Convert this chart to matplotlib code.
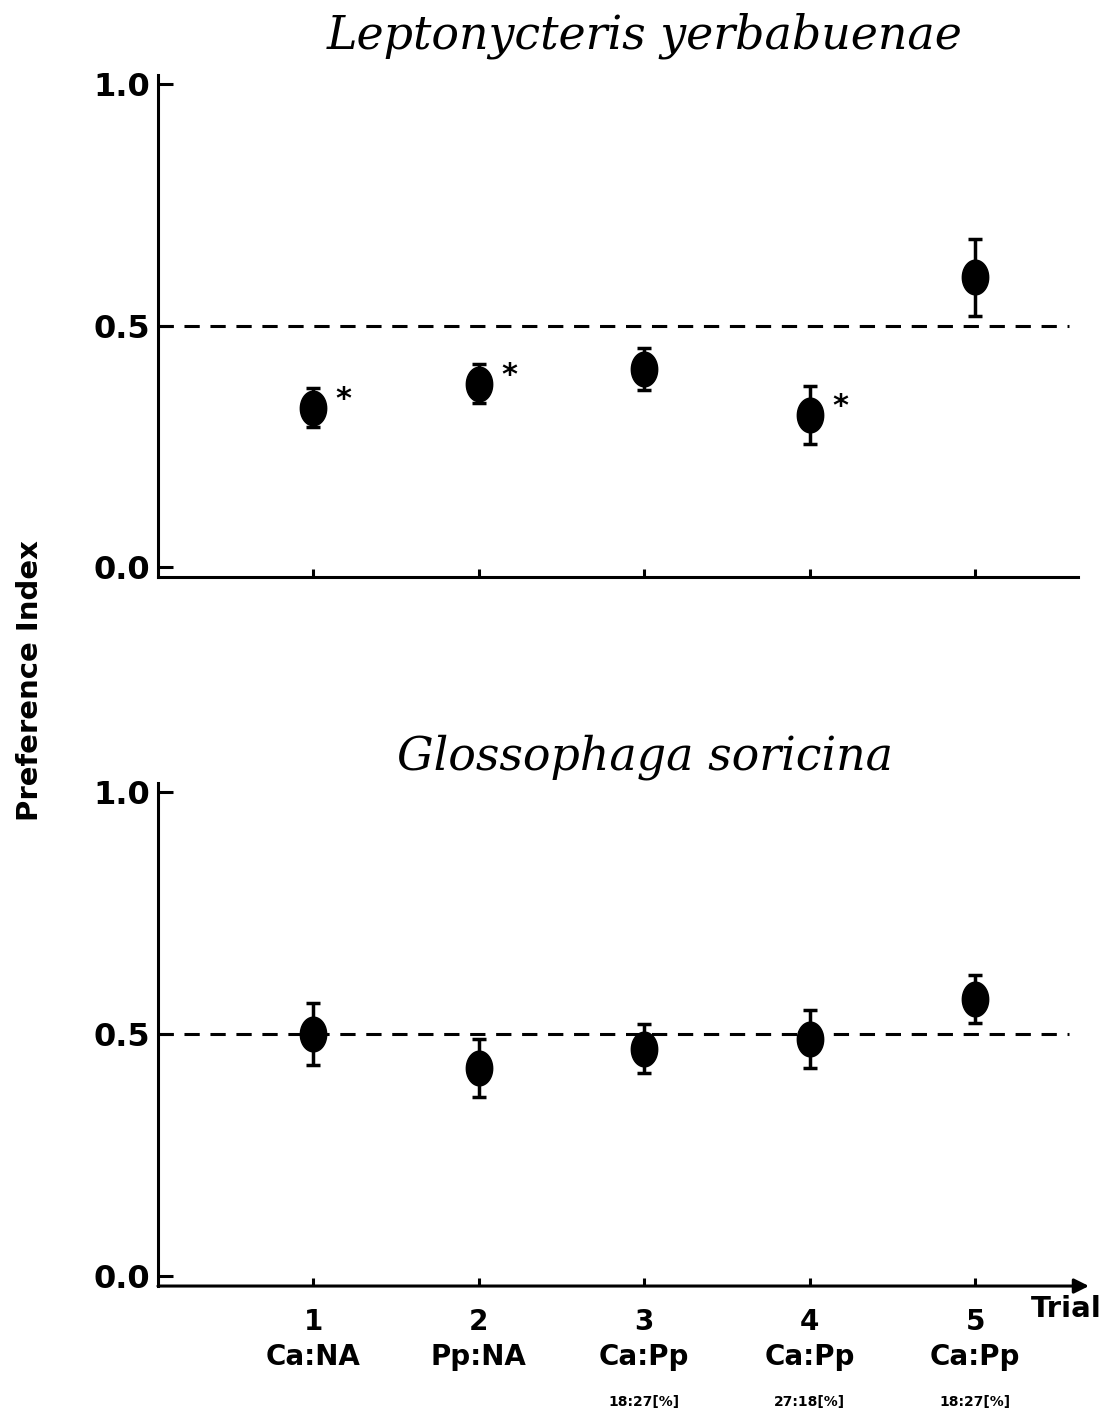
import matplotlib.pyplot as plt
import numpy as np
from matplotlib.path import Path

# Preference index per trial (mean and error)
trials = [1, 2, 3, 4, 5]
treatments = ['Ca:NA', 'Pp:NA', 'Ca:Pp', 'Ca:Pp', 'Ca:Pp']
concentrations = ['', '', '18:27[%]', '27:18[%]', '18:27[%]']

lepto_mean = [0.33, 0.38, 0.41, 0.315, 0.60]
lepto_err = [0.04, 0.04, 0.043, 0.06, 0.08]
lepto_signif = [True, True, False, True, False]

glosso_mean = [0.50, 0.43, 0.47, 0.49, 0.572]
glosso_err = [0.065, 0.06, 0.05, 0.06, 0.05]

titles = ['Leptonycteris yerbabuenae', 'Glossophaga soricina']

# slightly tall ellipse marker like the original
t = np.linspace(0, 2 * np.pi, 60)
ellipse = Path(np.column_stack([0.76 * np.cos(t), np.sin(t)]), closed=True)

fig = plt.figure(figsize=(11.07, 14.14), dpi=100)
ax_top = fig.add_axes([0.1427, 0.5919, 0.831, 0.355])
ax_bot = fig.add_axes([0.1427, 0.0905, 0.831, 0.3558])

for ax, mean, err in [(ax_top, lepto_mean, lepto_err), (ax_bot, glosso_mean, glosso_err)]:
    ax.errorbar(trials, mean, yerr=err, fmt='none', ecolor='black',
                elinewidth=2.5, capsize=5, capthick=2.5, zorder=2)
    ax.plot(trials, mean, linestyle='none', marker=ellipse, markersize=25,
            color='black', zorder=3)
    ax.axhline(0.5, xmin=0.0, xmax=0.99, color='black', lw=2.2,
               dashes=(5, 3.5), zorder=1)
    ax.set_xlim(0.063, 5.62)
    ax.set_ylim(-0.021, 1.019)
    ax.set_yticks([0.0, 0.5, 1.0])
    ax.set_yticklabels(['0.0', '0.5', '1.0'], fontsize=23, fontweight='bold')
    ax.set_xticks(trials)
    for side in ['top', 'right']:
        ax.spines[side].set_visible(False)
    for side in ['left', 'bottom']:
        ax.spines[side].set_linewidth(2.2)
    ax.tick_params(axis='y', direction='in', length=11, width=2.2, pad=6)
    ax.tick_params(axis='x', direction='in', length=6, width=2.2)

ax_top.set_xticklabels([])

# asterisks for significant trials
for x, y, s in zip(trials, lepto_mean, lepto_signif):
    if s:
        ax_top.annotate('*', (x, y), xytext=(22, 6), textcoords='offset points',
                        fontsize=22, fontweight='bold', ha='center', va='center')

# bottom axis with arrow
ax_bot.spines['bottom'].set_visible(False)
ax_bot.annotate('', xy=(1.012, 0), xytext=(0, 0), xycoords='axes fraction',
                arrowprops=dict(arrowstyle='-|>', lw=2.2, color='black',
                                mutation_scale=22, shrinkA=0, shrinkB=0))
ax_bot.set_xticklabels([f'{n}\n{tr}' for n, tr in zip(trials, treatments)],
                       fontsize=20, fontweight='bold', linespacing=1.3)
ax_bot.tick_params(axis='x', pad=16)
for x, c in zip(trials, concentrations):
    if c:
        ax_bot.text(x, -0.26, c, fontsize=10, fontweight='bold',
                    ha='center', va='center')
fig.text(0.9955, 0.0745, 'Trial', fontsize=21, fontweight='bold',
         ha='right', va='center')

fig.text(0.5827, 0.975, titles[0], fontsize=33, style='italic',
         family='DejaVu Serif', ha='center', va='center')
fig.text(0.5827, 0.4646, titles[1], fontsize=33, style='italic',
         family='DejaVu Serif', ha='center', va='center')
fig.text(0.027, 0.519, 'Preference Index', rotation=90, fontsize=21,
         fontweight='bold', ha='center', va='center')

fig.savefig('out.png', dpi=100)
